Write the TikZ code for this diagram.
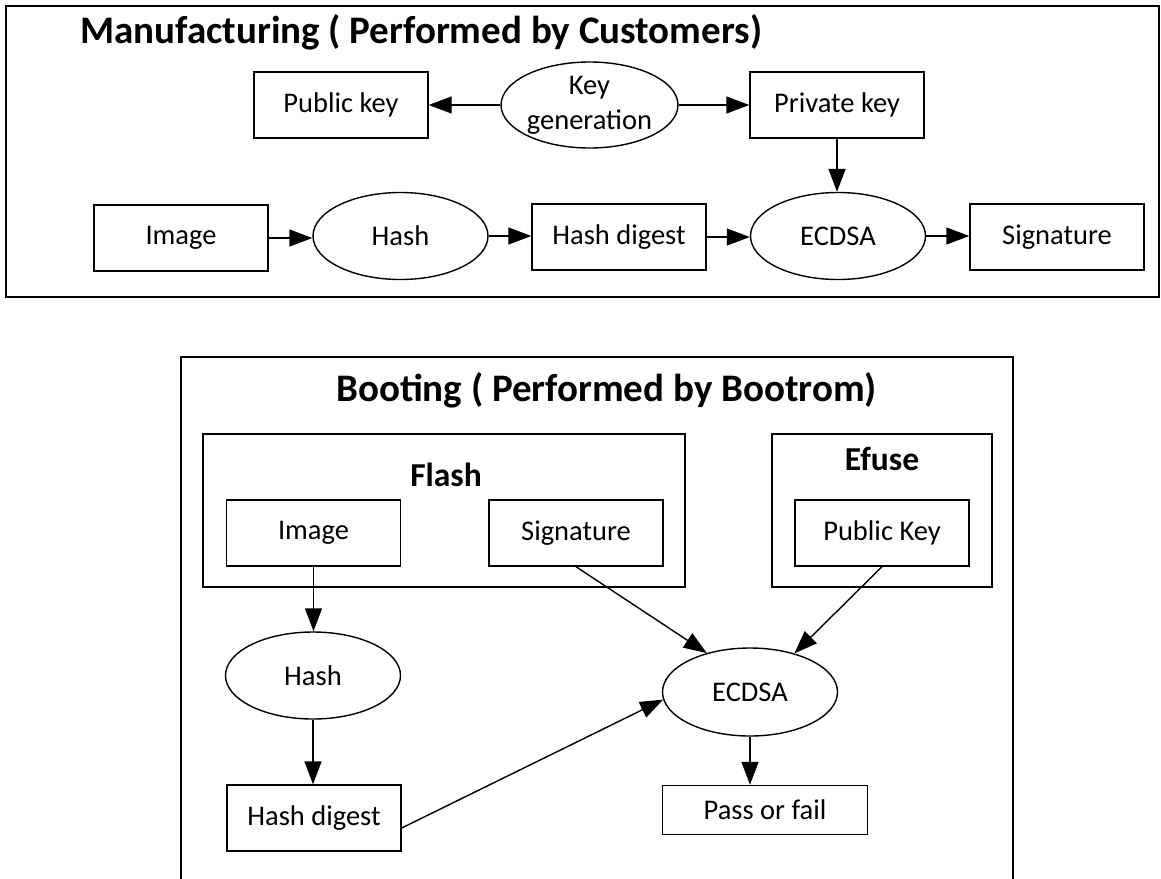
\documentclass[tikz,border=0pt]{standalone}
\usepackage{fontspec}
\setmainfont{Carlito}
\usetikzlibrary{shapes.geometric,arrows.meta,calc}
\begin{document}
\begin{tikzpicture}[x=1pt,y=-1pt,
  stepbox/.style={draw, line width=1.4pt, minimum width=174pt, minimum height=66pt,
    inner sep=0pt, font=\fontsize{28.5}{34}\selectfont},
  oval/.style={draw, ellipse, line width=1.4pt, minimum width=175pt, minimum height=87pt,
    inner sep=0pt, align=center, font=\fontsize{28.5}{35}\selectfont},
  frame/.style={draw, line width=1.7pt, inner sep=0pt},
  title/.style={font=\bfseries\fontsize{39}{44}\selectfont, anchor=base west, inner sep=0pt},
  subtitle/.style={font=\bfseries\fontsize{33.5}{40}\selectfont, anchor=base, inner sep=0pt},
  flow/.style={line width=1.4pt, -{Triangle[length=23pt,width=17pt]}}
]
\useasboundingbox (0,0) rectangle (1161,878);
\clip (0,0) rectangle (1161,878);

% ---------- Manufacturing ----------
\node[frame, minimum width=1153pt, minimum height=291pt] (mfg) at (582.5,151.5) {};
\node[title] (mfgtitle) at (80,43) {Manufacturing ( Performed by Customers)};

\node[stepbox] (pub)  at (341,105)   {Public key};
\node[oval, minimum height=86pt] (keygen) at (589.5,105) {Key\\generation};
\node[stepbox] (priv) at (837,105)   {Private key};

\node[stepbox] (img)  at (181,238)   {Image};
\node[oval]    (hash) at (400.5,236) {Hash};
\node[stepbox] (hd)   at (619,237)   {Hash digest};
\node[oval]    (ecdsa) at (838,236)  {ECDSA};
\node[stepbox] (sig)  at (1057,237)  {Signature};

\draw[flow] (keygen.west) -- (pub.east);
\draw[flow] (keygen.east) -- (priv.west);
\draw[flow] (priv.south) -- (priv.south |- ecdsa.north);
\draw[flow] (img.east) -- (img.east -| hash.west);
\draw[flow] (hash.east) -- (hash.east -| hd.west);
\draw[flow] (hd.east) -- (hd.east -| ecdsa.west);
\draw[flow] (ecdsa.east) -- (ecdsa.east -| sig.west);

% ---------- Booting ----------
\node[frame, minimum width=832pt, minimum height=543pt] (boot) at (597,628.5) {};
\node[title] (boottitle) at (336,401) {Booting ( Performed by Bootrom)};

\node[frame, minimum width=482pt, minimum height=153pt] (flash) at (444,510.5) {};
\node[subtitle] (flashtitle) at (446,486) {Flash};
\node[frame, minimum width=220pt, minimum height=153pt] (efuse) at (882,510.5) {};
\node[subtitle] (efusetitle) at (882,470) {Efuse};

\node[stepbox] (bimg) at (313.5,533) {Image};
\node[stepbox] (bsig) at (576,533)   {Signature};
\node[stepbox] (bpub) at (882,533)   {Public Key};

\node[oval]    (bhash)  at (313,675.5) {Hash};
\node[stepbox] (bhd)    at (314,818)   {Hash digest};
\node[oval, minimum height=88pt] (becdsa) at (750,692) {ECDSA};
\node[stepbox, minimum width=205pt, minimum height=49pt] (pf) at (765,810) {Pass or fail};

\draw[flow] (bimg.south) -- (bimg.south |- bhash.north);
\draw[flow] (bhash.south) -- (bhash.south |- bhd.north);
\draw[flow] (bsig.south) -- (becdsa.138);
\draw[flow] (bpub.south) -- (becdsa.41);
\draw[flow] ($(bhd.east)+(0,10)$) -- (becdsa.185);
\draw[flow] (becdsa.south) -- (becdsa.south |- pf.north);
\end{tikzpicture}
\end{document}
